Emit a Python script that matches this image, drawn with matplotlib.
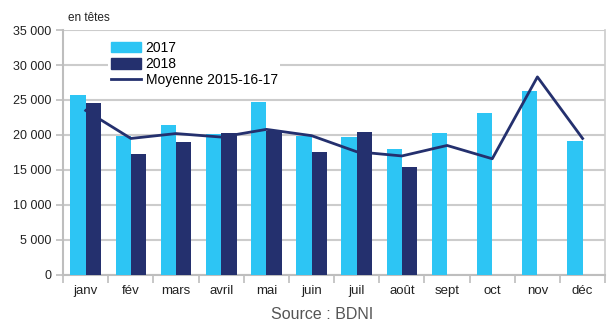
import numpy as np
import matplotlib.pyplot as plt
from matplotlib.lines import Line2D
from matplotlib.patches import Patch

months = ["janv", "fév", "mars", "avril", "mai", "juin",
          "juil", "août", "sept", "oct", "nov", "déc"]
val_2017 = [25700, 19900, 21400, 20100, 24700, 19900,
            19700, 18000, 20300, 23100, 26300, 19100]
val_2018 = [24600, 17300, 19000, 20300, 20600, 17600,
            20400, 15400]
moyenne = [23500, 19500, 20200, 19700, 20800, 19900,
           17600, 17000, 18500, 16600, 28300, 19500]

light = "#2DC5F4"
dark = "#24306E"
grey = "#BEBEBE"

plt.rcParams["font.family"] = ["Liberation Sans", "DejaVu Sans"]

fig = plt.figure(figsize=(6.07, 3.23), dpi=100)
ax = fig.add_axes([0.104, 0.149, 0.893, 0.758])

x = np.arange(len(months))
w = 0.34
ax.bar(x[:len(val_2017)] - w / 2, val_2017, w, color=light, zorder=3)
ax.bar(x[:len(val_2018)] + w / 2, val_2018, w, color=dark, zorder=3)
ax.plot(x, moyenne, color=dark, lw=2, zorder=4)

ax.set_xlim(-0.5, 11.5)
ax.set_ylim(0, 35000)
ax.set_yticks(range(0, 35001, 5000))
ax.set_yticklabels([f"{v:,}".replace(",", " ") for v in range(0, 35001, 5000)])
ax.set_xticks(x)
ax.set_xticklabels(months)
ax.set_xticks(np.arange(-0.5, 12, 1), minor=True)
ax.tick_params(axis="x", which="major", length=0, labelsize=9.5, pad=7,
               colors="#222222")
ax.tick_params(axis="x", which="minor", length=6, color=grey, width=1.2)
ax.tick_params(axis="y", length=5, color=grey, width=1.2, labelsize=9,
               colors="#222222")
ax.tick_params(axis="y", color=grey)

ax.grid(axis="y", color="#CCCCCC", lw=1.5, zorder=0)
ax.set_axisbelow(True)
for side in ["left", "bottom"]:
    ax.spines[side].set_color(grey)
    ax.spines[side].set_linewidth(1.5)
ax.spines["right"].set_color("#CCCCCC")
ax.spines["right"].set_linewidth(1.2)
ax.spines["top"].set_visible(False)

handles = [Patch(color=light), Patch(color=dark),
           Line2D([], [], color=dark, lw=2)]
leg = ax.legend(handles, ["2017", "2018", "Moyenne 2015-16-17"],
                loc="upper left", bbox_to_anchor=(0.07, 0.995),
                frameon=True, edgecolor="none", framealpha=1,
                fontsize=10, handlelength=2.2, handleheight=0.8,
                labelspacing=0.15, borderpad=0.2, handletextpad=0.3)
leg.get_frame().set_linewidth(0)

fig.text(0.112, 0.935, "en têtes", fontsize=8.5, color="#222222")
fig.text(0.53, 0.025, "Source : BDNI", fontsize=11.5, color="#555555",
         ha="center", va="center")

fig.savefig("out.png", dpi=100)
